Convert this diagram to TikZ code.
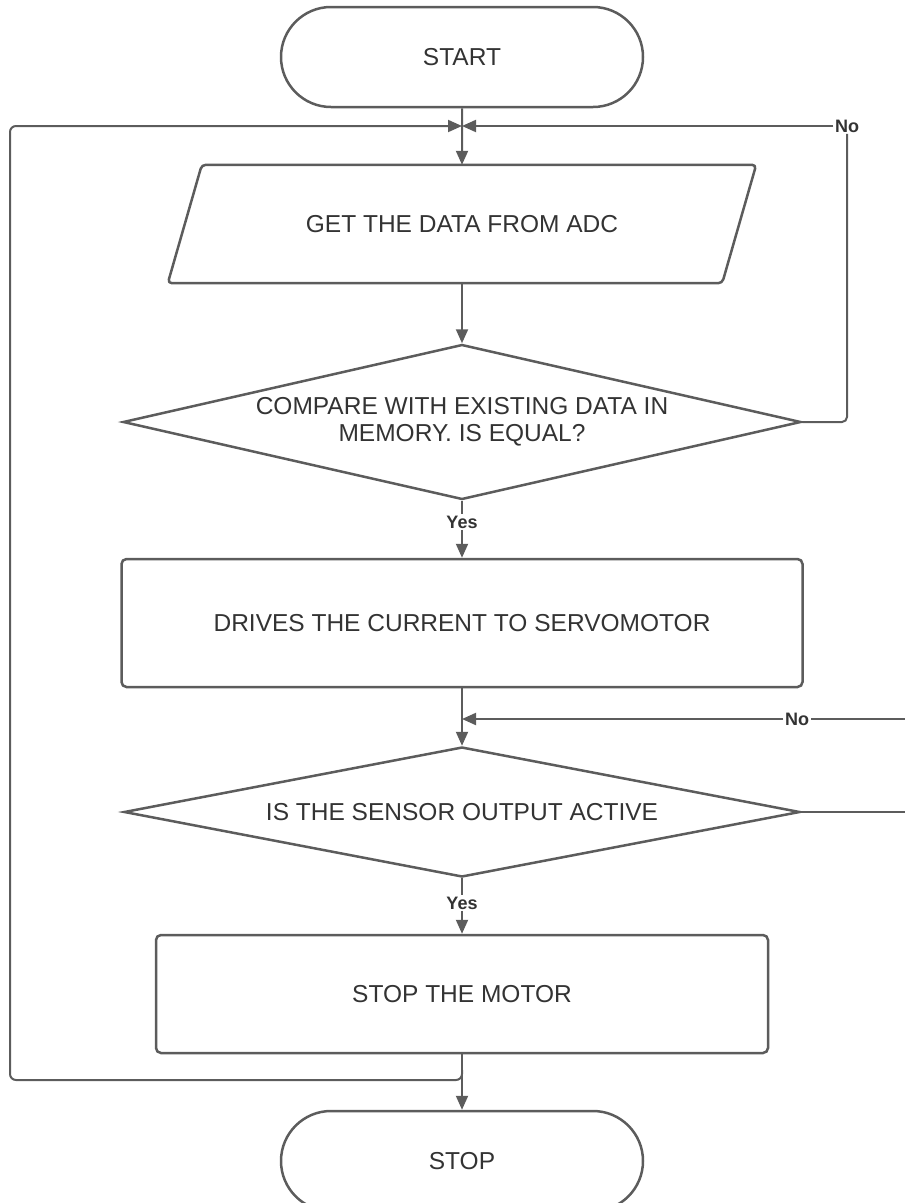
\documentclass[tikz,border=0pt]{standalone}
\usepackage{fontspec}
\setmainfont{Liberation Sans}
\usetikzlibrary{calc,arrows.meta,shapes.geometric,shapes.misc}

\definecolor{lineclr}{HTML}{5C5C5C}
\definecolor{textclr}{HTML}{333333}

\begin{document}
\begin{tikzpicture}[x=1pt, y=-1pt,
    every node/.style={text=textclr, font=\fontsize{24.5}{27}\selectfont},
    terminal/.style={draw=lineclr, line width=2.5pt, rounded rectangle,
        minimum width=362pt, minimum height=100pt, inner sep=0pt},
    iobox/.style={rectangle, minimum width=554pt, minimum height=118pt,
        inner sep=0pt},
    border/.style={draw=lineclr, line width=2.5pt, line join=round},
    procbox/.style={draw=lineclr, line width=2.5pt, rectangle,
        rounded corners=5pt, inner sep=0pt},
    decision/.style={draw=lineclr, line width=2.5pt, diamond,
        inner sep=0pt, align=center},
    flow/.style={draw=lineclr, line width=2pt,
        -{Triangle[length=14pt,width=12pt]}},
    link/.style={draw=lineclr, line width=2pt},
    tag/.style={font=\fontsize{18}{20}\bfseries\selectfont, fill=white,
        inner sep=1.5pt}
]
    \useasboundingbox (0,0) rectangle (905,1203);

    % Draw shapes.
    \node[terminal] (start) at (462,57) {START};
    \node[iobox] (adc) at (462,224) {GET THE DATA FROM ADC};
    \draw[border, rounded corners=4pt]
        ($(adc.north west)+(17,0)$) -- ($(adc.north east)+(17,0)$)
        -- ($(adc.south east)+(-17,0)$) -- ($(adc.south west)+(-17,0)$)
        -- cycle;
    \node[decision, minimum width=678pt, minimum height=155pt, aspect=4.4]
        (cmp) at (462,422) {COMPARE WITH EXISTING DATA IN\\MEMORY. IS EQUAL?};
    \node[procbox, minimum width=681pt, minimum height=128pt]
        (drive) at (462,623) {DRIVES THE CURRENT TO SERVOMOTOR};
    \node[decision, minimum width=676pt, minimum height=130pt, aspect=5.2]
        (sense) at (462,812) {IS THE SENSOR OUTPUT ACTIVE};
    \node[procbox, minimum width=612pt, minimum height=118pt]
        (halt) at (462,994) {STOP THE MOTOR};
    \node[terminal] (stop) at (462,1161) {STOP};

    % junctions and loose ends
    \coordinate (j1) at (462,126);
    \coordinate (j2) at (462,719);
    \coordinate (j3) at (462,1070);
    \coordinate (e1) at (905,812);
    \coordinate (e2) at (905,719);

    % main line
    \draw[flow] (start) -- (adc);
    \draw[flow] (adc) -- (cmp);
    \draw[flow] (drive) -- (sense);
    \draw[flow] (halt) -- (stop);

    % yes branches
    \node[tag] (yes1) at (462,522) {Yes};
    \draw[link] (cmp.south) -- (yes1);
    \draw[flow] (yes1) -- (drive);
    \node[tag] (yes2) at (462,903) {Yes};
    \draw[link] (sense.south) -- (yes2);
    \draw[flow] (yes2) -- (halt);

    % no branches
    \node[tag] (no1) at (847,126) {No};
    \draw[link, rounded corners=5pt] (cmp.east) -| (no1.south);
    \draw[flow] (no1.west) -- (j1);
    \node[tag] (no2) at (797,719) {No};
    \draw[link] (sense.east) -- (e1);
    \draw[link] (e2) -- (no2.east);
    \draw[flow] (no2.west) -- (j2);

    % loop back to the top
    \draw[flow, rounded corners=6pt] (j3) -- (462,1080) -- (10,1080)
        -- (10,126) -- (j1);

\end{tikzpicture}
\end{document}
